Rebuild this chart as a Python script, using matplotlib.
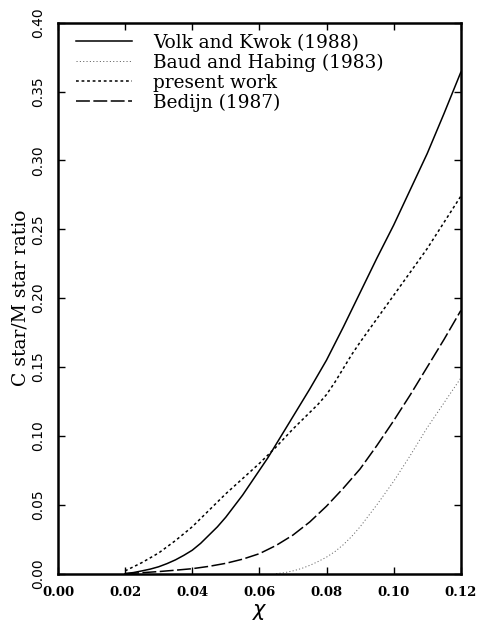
import numpy as np
import matplotlib
matplotlib.use("Agg")
import matplotlib.pyplot as plt

plt.rcParams['font.family'] = ['DejaVu Serif']
plt.rcParams['lines.scale_dashes'] = False

# curve samples
chi_vk = [0.02, 0.0225, 0.025, 0.0275, 0.03, 0.0325, 0.035, 0.0375, 0.04, 0.0425,
          0.045, 0.0475, 0.05, 0.0525, 0.055, 0.0575, 0.06, 0.0625, 0.065, 0.0675,
          0.07, 0.075, 0.08, 0.085, 0.09, 0.095, 0.10, 0.105, 0.11, 0.115, 0.12]
volk_kwok = [0.0, 0.0008, 0.002, 0.0033, 0.005, 0.0073, 0.010, 0.0133, 0.017, 0.022,
             0.028, 0.034, 0.041, 0.049, 0.057, 0.066, 0.075, 0.084, 0.094, 0.104,
             0.114, 0.134, 0.155, 0.179, 0.204, 0.229, 0.253, 0.279, 0.305, 0.334, 0.364]

chi_pw = [0.02, 0.025, 0.03, 0.035, 0.04, 0.045, 0.05, 0.055, 0.06, 0.065, 0.07,
          0.075, 0.0775, 0.08, 0.0825, 0.085, 0.0875, 0.09, 0.095, 0.10, 0.105,
          0.11, 0.115, 0.12]
present_work = [0.002, 0.008, 0.015, 0.024, 0.034, 0.046, 0.058, 0.069, 0.080, 0.092, 0.105,
                0.117, 0.123, 0.130, 0.139, 0.149, 0.159, 0.168, 0.185, 0.202, 0.219,
                0.236, 0.255, 0.274]

chi_bh = [0.065, 0.0675, 0.07, 0.0725, 0.075, 0.0775, 0.08, 0.0825, 0.085, 0.0875,
          0.09, 0.095, 0.10, 0.105, 0.11, 0.115, 0.12]
baud_habing = [0.0, 0.0007, 0.002, 0.0037, 0.006, 0.0088, 0.012, 0.016, 0.021, 0.027,
               0.034, 0.050, 0.067, 0.086, 0.106, 0.124, 0.142]

chi_bd = [0.02, 0.025, 0.03, 0.035, 0.04, 0.045, 0.05, 0.055, 0.06, 0.065, 0.07,
          0.075, 0.08, 0.085, 0.09, 0.095, 0.10, 0.105, 0.11, 0.115, 0.12]
bedijn = [0.0, 0.0007, 0.0015, 0.0025, 0.0036, 0.0053, 0.0075, 0.0105, 0.0145, 0.0205, 0.028,
          0.0375, 0.049, 0.062, 0.076, 0.093, 0.111, 0.130, 0.150, 0.170, 0.191]

x_ticks = [0.00, 0.02, 0.04, 0.06, 0.08, 0.10, 0.12]
y_ticks = [0.00, 0.05, 0.10, 0.15, 0.20, 0.25, 0.30, 0.35, 0.40]

fig = plt.figure(figsize=(4.79, 6.29), dpi=100)
ax = fig.add_axes([0.121, 0.088, 0.841, 0.876])

ax.plot(chi_vk, volk_kwok, color='black', lw=1.1, label='Volk and Kwok (1988)')
ax.plot(chi_bh, baud_habing, color='0.4', lw=0.7, linestyle=(0, (0.8, 1.6)),
        label='Baud and Habing (1983)')
ax.plot(chi_pw, present_work, color='black', lw=1.1, linestyle=(0, (2, 2)),
        label='present work')
ax.plot(chi_bd, bedijn, color='black', lw=1.1, linestyle=(0, (10, 2.5)),
        label='Bedijn (1987)')

ax.set_xlim(0, 0.12)
ax.set_ylim(0, 0.40)
ax.set_xticks(x_ticks)
ax.set_yticks(y_ticks)
ax.set_xticklabels([f"{v:.2f}" for v in x_ticks], fontweight='bold', fontsize=9.5)
ax.set_yticklabels([f"{v:.2f}" for v in y_ticks], fontsize=10, family='DejaVu Sans',
                   rotation=90, va='center')
ax.tick_params(direction='in', length=5, width=1, top=True, right=True)
ax.tick_params(axis='x', pad=9)
ax.tick_params(axis='y', pad=9)
for s in ax.spines.values():
    s.set_linewidth(1.8)

fig.text(260 / 479, 1 - 612 / 629, r'$\chi$', fontsize=15, ha='center', va='center')
fig.text(21 / 479, 1 - 298 / 629, 'C star/M star ratio', fontsize=13.5,
         rotation=90, ha='center', va='center')

ax.legend(loc='upper left', frameon=False, fontsize=13.3, handlelength=3.0,
          handletextpad=1.15, labelspacing=0.1, borderaxespad=0.2,
          bbox_to_anchor=(0.018, 1.0))

fig.savefig('out.png', dpi=100)
